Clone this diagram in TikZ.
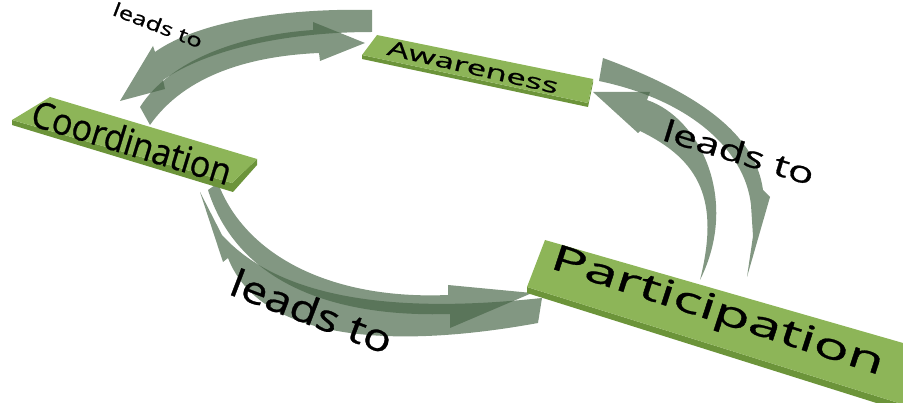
\documentclass[tikz,border=0pt]{standalone}
\usepackage{fontspec}
\setmainfont{Open Sans}[FakeBold=0.7]
\usetikzlibrary{positioning}
\definecolor{boxgreen}{RGB}{141,181,88}
\definecolor{boxside}{RGB}{108,148,58}
\definecolor{bandgray}{RGB}{71,101,71}

\begin{document}
\begin{tikzpicture}[x=1pt,y=-1pt,
  band/.style={fill=bandgray,fill opacity=0.68},
  face/.style={fill=boxgreen},
  side/.style={fill=boxside},
  word/.style={inner sep=0pt,font=\fontsize{#1}{#1}\selectfont}]
  \useasboundingbox (0,0) rectangle (903,403);
% Coordination <-> Awareness
  \fill[band] (372,10) .. controls (290,8) and (200,20) .. (155,52) -- (153,46) -- (120,101)
    -- (165,89) -- (163,80) .. controls (210,48) and (290,32) .. (372,32) -- cycle;
  \fill[band] (140,107) .. controls (170,60) and (240,35) .. (313,30) -- (313,22) -- (365,43)
    -- (320,61) -- (319,53) .. controls (250,56) and (185,75) .. (150,125) -- cycle;
% Awareness <-> Participation
  \fill[band] (603,58) .. controls (690,90) and (755,130) .. (763,190) -- (770,197) -- (747,277)
    -- (753,236) -- (751,205) .. controls (745,150) and (690,100) .. (599,81) -- cycle;
  \fill[band] (593,92) -- (650,92) -- (647,100) .. controls (700,118) and (740,200) .. (700,280)
    .. controls (720,200) and (700,160) .. (640,131) -- (638,133) -- cycle;
% Coordination <-> Participation
  \fill[band] (218,183) .. controls (245,255) and (330,300) .. (448,295) -- (448,285) -- (532,293)
    -- (450,328) -- (450,314) .. controls (320,318) and (235,275) .. (208,190) -- cycle;
  \fill[band] (542,298) .. controls (430,310) and (290,310) .. (222,235) -- (200,192) -- (223,262)
    -- (228,258) .. controls (260,340) and (390,350) .. (538,323) -- cycle;
% boxes
  \fill[side] (12,120) -- (232,183) -- (257,159) -- (257,165) -- (233,192) -- (12,125) -- cycle;
  \fill[face] (50,97) -- (257,159) -- (232,183) -- (12,120) -- cycle;
  \fill[side] (362,55) -- (588,103) -- (593,79) -- (593,83) -- (588,107) -- (362,59) -- cycle;
  \fill[face] (377,35) -- (593,79) -- (588,103) -- (362,55) -- cycle;
  \fill[side] (527,287) -- (905,405) -- (910,345) -- (910,352) -- (905,412) -- (527,293) -- cycle;
  \fill[face] (545,240) -- (910,345) -- (905,405) -- (527,287) -- cycle;
% texts
  \node[word=34,rotate=-17,yscale=1.08] (coord) at (132,142) {Coordination};
  \node[word=21,rotate=-13,xscale=1.65] (aware) at (473,67) {Awareness};
  \node[word=36,rotate=-18,xscale=1.64] (partic) at (717,313) {Participation};
  \node[word=19,rotate=-21,xscale=1.35] (leadA) at (158,25) {leads to};
  \node[word=30,rotate=-17,xscale=1.42] (leadB) at (739,152) {leads to};
  \node[word=38,rotate=-21,xscale=1.22] (leadC) at (312,311) {leads to};
\end{tikzpicture}
\end{document}
